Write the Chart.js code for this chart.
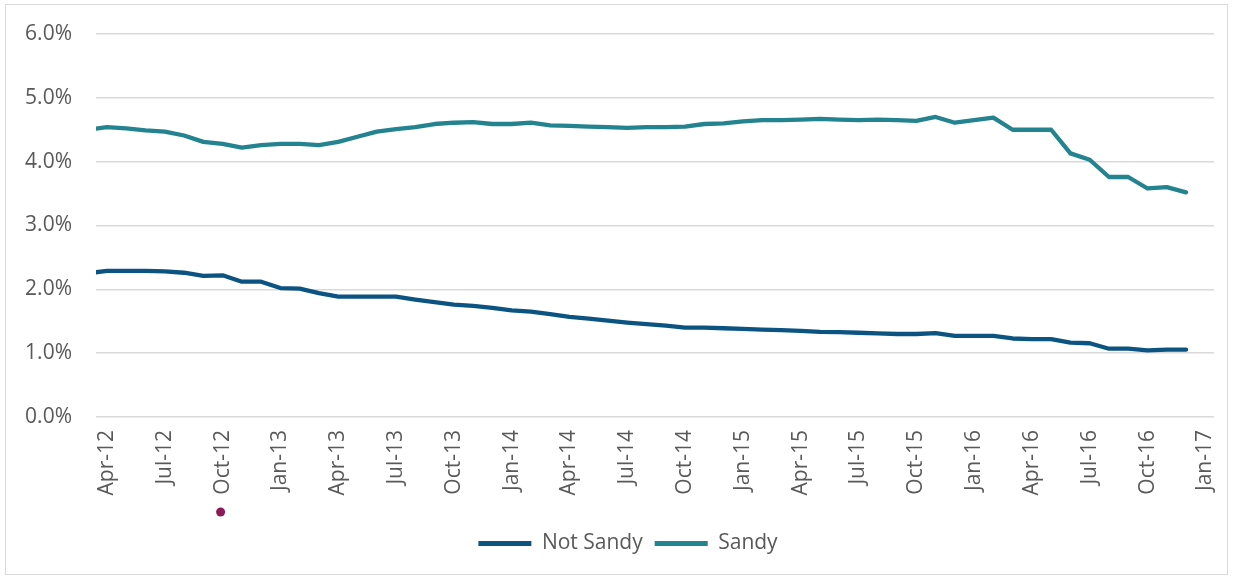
<!DOCTYPE html>
<html>
<head>
<meta charset="utf-8">
<script src="https://cdn.jsdelivr.net/npm/chart.js@4"></script>
<style>
  html, body { margin: 0; padding: 0; background: #fff; }
  #wrap { position: relative; width: 1234px; height: 579px; }
  #frame { position: absolute; left: 5px; top: 4px; width: 1223px; height: 571px; border: 1px solid #d9d9d9; box-sizing: border-box; pointer-events: none; }
  canvas { position: absolute; left: 0; top: 0; }
</style>
</head>
<body>
<div id="wrap">
  <canvas id="c" width="1234" height="579"></canvas>
  <div id="frame"></div>
</div>
<script>
// Monthly data, Mar-12 .. Dec-16 (Mar-12 sits just left of the visible axis start)
const months = [
  'Mar-12','Apr-12','May-12','Jun-12','Jul-12','Aug-12','Sep-12','Oct-12','Nov-12','Dec-12',
  'Jan-13','Feb-13','Mar-13','Apr-13','May-13','Jun-13','Jul-13','Aug-13','Sep-13','Oct-13','Nov-13','Dec-13',
  'Jan-14','Feb-14','Mar-14','Apr-14','May-14','Jun-14','Jul-14','Aug-14','Sep-14','Oct-14','Nov-14','Dec-14',
  'Jan-15','Feb-15','Mar-15','Apr-15','May-15','Jun-15','Jul-15','Aug-15','Sep-15','Oct-15','Nov-15','Dec-15',
  'Jan-16','Feb-16','Mar-16','Apr-16','May-16','Jun-16','Jul-16','Aug-16','Sep-16','Oct-16','Nov-16','Dec-16'
];
const notSandy = [
  2.25,2.29,2.29,2.29,2.28,2.26,2.21,2.22,2.12,2.12,
  2.02,2.01,1.94,1.885,1.885,1.885,1.885,1.84,1.80,1.76,1.74,1.71,
  1.67,1.65,1.61,1.57,1.54,1.51,1.48,1.455,1.43,1.40,1.40,1.39,
  1.38,1.37,1.36,1.35,1.335,1.33,1.32,1.31,1.30,1.30,1.315,1.27,
  1.27,1.27,1.23,1.22,1.22,1.165,1.155,1.07,1.07,1.045,1.055,1.055
];
const sandy = [
  4.50,4.54,4.52,4.49,4.47,4.41,4.31,4.28,4.22,4.26,
  4.28,4.28,4.26,4.31,4.39,4.47,4.51,4.54,4.59,4.61,4.62,4.59,
  4.59,4.61,4.57,4.56,4.55,4.54,4.53,4.54,4.54,4.55,4.59,4.60,
  4.63,4.65,4.65,4.66,4.67,4.66,4.65,4.66,4.65,4.64,4.70,4.61,
  4.65,4.69,4.50,4.50,4.50,4.13,4.03,3.76,3.76,3.58,3.60,3.52
];
const tickLabels = [
  'Apr-12','Jul-12','Oct-12','Jan-13','Apr-13','Jul-13','Oct-13','Jan-14','Apr-14','Jul-14',
  'Oct-14','Jan-15','Apr-15','Jul-15','Oct-15','Jan-16','Apr-16','Jul-16','Oct-16','Jan-17'
];
const yTicks = [0,1,2,3,4,5,6];
const seriesNames = ['Not Sandy','Sandy'];
const seriesColors = ['#0b5482','#23838f'];
const markedTick = 'Oct-12';

// month index relative to Apr-12
const base = months.indexOf('Apr-12');
const toPts = arr => arr.map((v, i) => ({ x: i - base, y: v }));
const tickIndex = lbl => tickLabels.indexOf(lbl) * 3;

const textColor = '#595959';
const fontFam = '"Open Sans", "Noto Sans", sans-serif';
const fontSize = 21;

const dotPlugin = {
  id: 'dot',
  afterLayout(chart) {
    // centre the legend on the whole frame rather than on the plot box
    if (chart.legend) chart.legend.left = 42;
  },
  afterDraw(chart) {
    const xs = chart.scales.x;
    const ctx = chart.ctx;
    const px = xs.getPixelForValue(tickIndex(markedTick)) - 2;
    const py = xs.bottom - 9;
    ctx.save();
    ctx.fillStyle = '#8c1a5b';
    ctx.beginPath();
    ctx.arc(px, py, 4.5, 0, Math.PI * 2);
    ctx.fill();
    ctx.restore();
  }
};

new Chart(document.getElementById('c'), {
  type: 'line',
  data: {
    datasets: [
      { label: seriesNames[0], data: toPts(notSandy), borderColor: seriesColors[0], backgroundColor: seriesColors[0] },
      { label: seriesNames[1], data: toPts(sandy), borderColor: seriesColors[1], backgroundColor: seriesColors[1] }
    ]
  },
  options: {
    responsive: false,
    animation: false,
    devicePixelRatio: 1,
    layout: { padding: { left: 0, right: 20, top: 34, bottom: 15 } },
    elements: {
      line: { borderWidth: 4.3, tension: 0, borderCapStyle: 'round', borderJoinStyle: 'round' },
      point: { radius: 0, hoverRadius: 0 }
    },
    scales: {
      x: {
        type: 'linear',
        min: -0.57,
        max: 57.45,
        afterBuildTicks: s => { s.ticks = tickLabels.map((t, i) => ({ value: i * 3 })); },
        afterFit: s => { s.height = 104; s.paddingLeft = 0; s.paddingRight = 0; },
        grid: { display: false, drawTicks: false },
        border: { display: false },
        ticks: {
          autoSkip: false,
          minRotation: 90,
          maxRotation: 90,
          padding: 13,
          color: textColor,
          font: { family: fontFam, size: fontSize },
          callback: v => tickLabels[Math.round(v / 3)]
        }
      },
      y: {
        min: 0,
        max: 6,
        afterBuildTicks: s => { s.ticks = yTicks.map(v => ({ value: v })); },
        afterFit: s => { s.width = 96; s.paddingTop = 0; s.paddingBottom = 0; },
        grid: { color: '#d9d9d9', lineWidth: 1.5, drawTicks: false },
        border: { display: false },
        ticks: {
          padding: 24,
          color: textColor,
          font: { family: fontFam, size: fontSize },
          callback: v => v.toFixed(1) + '%'
        }
      }
    },
    plugins: {
      tooltip: { enabled: false },
      legend: {
        position: 'bottom',
        labels: {
          boxWidth: 53,
          boxHeight: 5,
          padding: 12,
          color: textColor,
          font: { family: fontFam, size: fontSize },
          generateLabels: chart => chart.data.datasets.map((d, i) => ({
            text: d.label,
            fillStyle: d.borderColor,
            strokeStyle: d.borderColor,
            lineWidth: 0,
            fontColor: textColor,
            datasetIndex: i,
            hidden: false
          }))
        }
      }
    }
  },
  plugins: [dotPlugin]
});
</script>
</body>
</html>
